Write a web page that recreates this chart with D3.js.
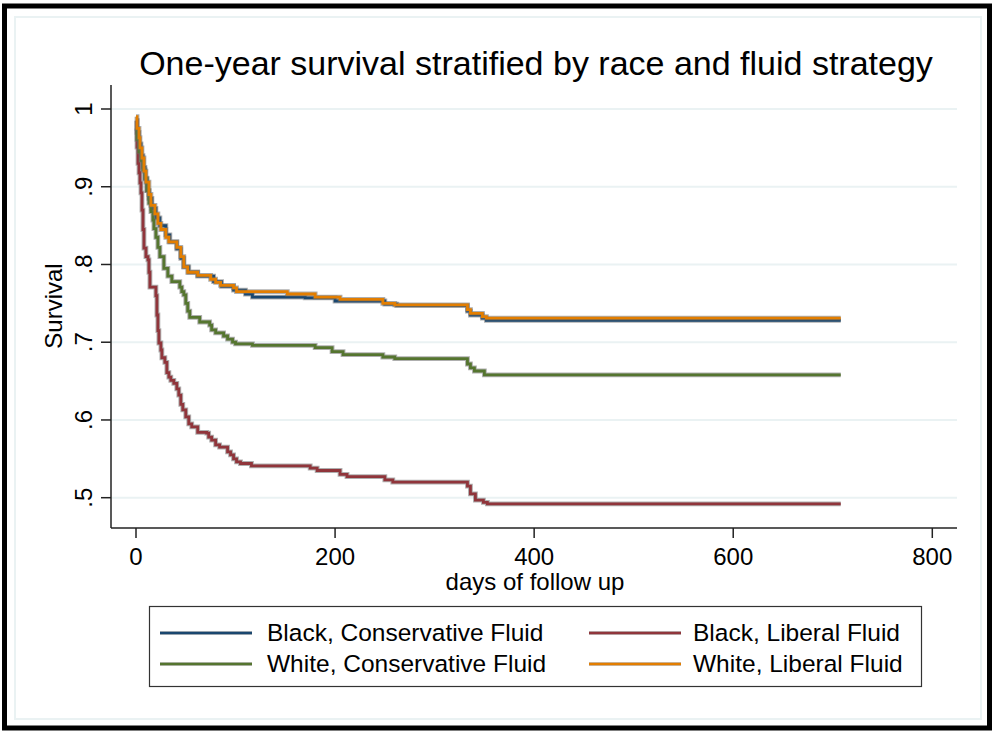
<!DOCTYPE html>
<html>
<head>
<meta charset="utf-8">
<script src="https://cdn.jsdelivr.net/npm/d3@7"></script>
<style>
  html, body { margin: 0; padding: 0; background: #fff; }
  svg { display: block; font-family: "Liberation Sans", Arial, sans-serif; }
</style>
</head>
<body>
<svg id="chart" width="996" height="732"></svg>
<script>
// ---- data ----
const title = "One-year survival stratified by race and fluid strategy";
const xLabel = "days of follow up";
const yLabel = "Survival";
const xTicks = [0, 200, 400, 600, 800];
const yTicks = [0.5, 0.6, 0.7, 0.8, 0.9, 1.0];
const yTickLabels = [".5", ".6", ".7", ".8", ".9", "1"];
const endDay = 708;

const seriesNames = ["Black, Conservative Fluid", "Black, Liberal Fluid", "White, Conservative Fluid", "White, Liberal Fluid"];
const seriesColors = ["#1a476f", "#90353b", "#55752f", "#e37e00"];

// Black, Conservative Fluid
const bcTime = [0, 1, 3, 5, 7, 9, 11, 13, 16, 20, 24, 30, 34, 41, 45, 48, 53, 62, 78, 86, 98, 110, 117, 170, 200, 250, 262, 333, 336, 348, 352];
const bcSurv = [.985, .97, .955, .94, .925, .91, .895, .885, .872, .86, .85, .838, .829, .82, .808, .797, .79, .785, .778, .772, .767, .762, .758, .757, .753, .749, .747, .74, .735, .731, .728];

// Black, Liberal Fluid
const blTime = [0, 1, 2, 3, 4, 5, 6, 7, 8, 10, 12, 13, 14, 20, 21, 22, 23, 25, 26, 29, 31, 33, 35, 38, 41, 43, 45, 47, 50, 53, 56, 62, 71, 73, 76, 80, 84, 92, 95, 98, 101, 105, 116, 175, 182, 205, 212, 250, 258, 333, 336, 341, 349, 353];
const blSurv = [.985, .951, .93, .918, .905, .892, .87, .845, .821, .81, .806, .79, .771, .76, .735, .715, .699, .69, .68, .674, .661, .655, .651, .647, .64, .632, .62, .613, .604, .595, .591, .584, .583, .578, .574, .568, .565, .559, .555, .55, .546, .544, .541, .538, .535, .53, .527, .523, .52, .515, .505, .497, .494, .492];

// White, Conservative Fluid
const wcTime = [0, 1, 3, 5, 7, 9, 11, 13, 15, 17, 18, 20, 22, 24, 28, 32, 36, 44, 46, 48, 50, 52, 54, 64, 74, 76, 80, 88, 92, 97, 100, 117, 180, 197, 208, 248, 260, 333, 336, 340, 350];
const wcSurv = [.975, .961, .945, .934, .922, .911, .895, .879, .868, .857, .846, .835, .822, .81, .795, .785, .778, .771, .765, .761, .75, .74, .732, .726, .722, .716, .712, .708, .704, .70, .698, .696, .693, .688, .684, .681, .679, .672, .667, .663, .658];

// White, Liberal Fluid
const wlTime = [0, 1, 3, 4, 6, 8, 10, 13, 15, 19, 22, 25, 30, 33, 41, 45, 48, 52, 62, 75, 80, 85, 98, 101, 152, 180, 205, 248, 260, 333, 336, 348, 352];
const wlSurv = [.99, .975, .963, .95, .937, .92, .906, .89, .876, .865, .853, .845, .835, .829, .822, .81, .797, .79, .786, .781, .777, .773, .77, .765, .762, .758, .755, .75, .748, .742, .737, .733, .731];

const seriesTimes = [bcTime, blTime, wcTime, wlTime];
const seriesSurvs = [bcSurv, blSurv, wcSurv, wlSurv];

// ---- drawing ----
const svg = d3.select("#chart");
const W = 996, H = 732;

svg.append("rect").attr("x", 0).attr("y", 0).attr("width", W).attr("height", H).attr("fill", "#fff");
// faint inner frame
svg.append("rect").attr("x", 15).attr("y", 17).attr("width", 966).attr("height", 702)
  .attr("fill", "none").attr("stroke", "#eaf2f3").attr("stroke-width", 2);
// outer black frame
svg.append("rect").attr("x", 4.5).attr("y", 6).attr("width", 985).attr("height", 722)
  .attr("fill", "none").attr("stroke", "#000").attr("stroke-width", 5);

const plot = { left: 111, right: 957, top: 85, bottom: 528 };

const x = d3.scaleLinear().domain([0, 800]).range([136, 932.3]);
const y = d3.scaleLinear().domain([0.5, 1.0]).range([497.7, 109]);

// gridlines
svg.append("g").selectAll("line").data(yTicks).join("line")
  .attr("x1", plot.left).attr("x2", plot.right)
  .attr("y1", d => y(d)).attr("y2", d => y(d))
  .attr("stroke", "#eaf2f3").attr("stroke-width", 2);

// curves
const line = d3.line().x(d => x(d[0])).y(d => y(d[1])).curve(d3.curveStepAfter);
const curvesG = svg.append("g");
seriesNames.forEach((name, i) => {
  const t = seriesTimes[i], s = seriesSurvs[i];
  const pts = t.map((ti, j) => [ti, s[j]]);
  pts.push([endDay, s[s.length - 1]]);
  curvesG.append("path").datum(pts).attr("d", line)
    .attr("fill", "none").attr("stroke", "#6e6e6e").attr("stroke-opacity", 0.55)
    .attr("stroke-width", 4.8);
  curvesG.append("path").datum(pts).attr("d", line)
    .attr("fill", "none").attr("stroke", seriesColors[i])
    .attr("stroke-width", 2.8);
});

// axes lines
const axisColor = "#222";
svg.append("line").attr("x1", plot.left).attr("x2", plot.left).attr("y1", plot.top).attr("y2", plot.bottom)
  .attr("stroke", axisColor).attr("stroke-width", 1.5);
svg.append("line").attr("x1", plot.left).attr("x2", plot.right).attr("y1", plot.bottom).attr("y2", plot.bottom)
  .attr("stroke", axisColor).attr("stroke-width", 1.5);

// y ticks + labels
const yt = svg.append("g");
yTicks.forEach((v, i) => {
  yt.append("line").attr("x1", plot.left - 10).attr("x2", plot.left).attr("y1", y(v)).attr("y2", y(v))
    .attr("stroke", axisColor).attr("stroke-width", 1.5);
  yt.append("text").attr("transform", `translate(92,${y(v)}) rotate(-90)`)
    .attr("text-anchor", "middle").attr("font-size", 24).attr("fill", "#000")
    .text(yTickLabels[i]);
});

// x ticks + labels
const xt = svg.append("g");
xTicks.forEach(v => {
  xt.append("line").attr("x1", x(v)).attr("x2", x(v)).attr("y1", plot.bottom).attr("y2", plot.bottom + 10)
    .attr("stroke", axisColor).attr("stroke-width", 1.5);
  xt.append("text").attr("x", x(v)).attr("y", 565)
    .attr("text-anchor", "middle").attr("font-size", 24).attr("fill", "#000")
    .text(d3.format("d")(v));
});

// axis titles
svg.append("text").attr("x", 535).attr("y", 590).attr("text-anchor", "middle")
  .attr("font-size", 24).attr("fill", "#000").text(xLabel);
svg.append("text").attr("transform", "translate(62,306) rotate(-90)").attr("text-anchor", "middle")
  .attr("font-size", 24).attr("fill", "#000").text(yLabel);

// title
svg.append("text").attr("x", 536).attr("y", 75).attr("text-anchor", "middle")
  .attr("font-size", 34).attr("fill", "#000").text(title);

// legend
const lg = svg.append("g");
lg.append("rect").attr("x", 149.5).attr("y", 606.5).attr("width", 772).attr("height", 80)
  .attr("fill", "#fff").attr("stroke", "#333").attr("stroke-width", 1.2);
const legendPos = [
  { lx: 160, tx: 267, ly: 633 },
  { lx: 589, tx: 693, ly: 633 },
  { lx: 160, tx: 267, ly: 664 },
  { lx: 589, tx: 693, ly: 664 }
];
seriesNames.forEach((name, i) => {
  const p = legendPos[i];
  lg.append("line").attr("x1", p.lx).attr("x2", p.lx + 92).attr("y1", p.ly).attr("y2", p.ly)
    .attr("stroke", "#888").attr("stroke-opacity", 0.5).attr("stroke-width", 4);
  lg.append("line").attr("x1", p.lx).attr("x2", p.lx + 92).attr("y1", p.ly).attr("y2", p.ly)
    .attr("stroke", seriesColors[i]).attr("stroke-width", 2.6);
  lg.append("text").attr("x", p.tx).attr("y", p.ly + 8).attr("font-size", 24.5).attr("fill", "#000")
    .text(name);
});
</script>
</body>
</html>
